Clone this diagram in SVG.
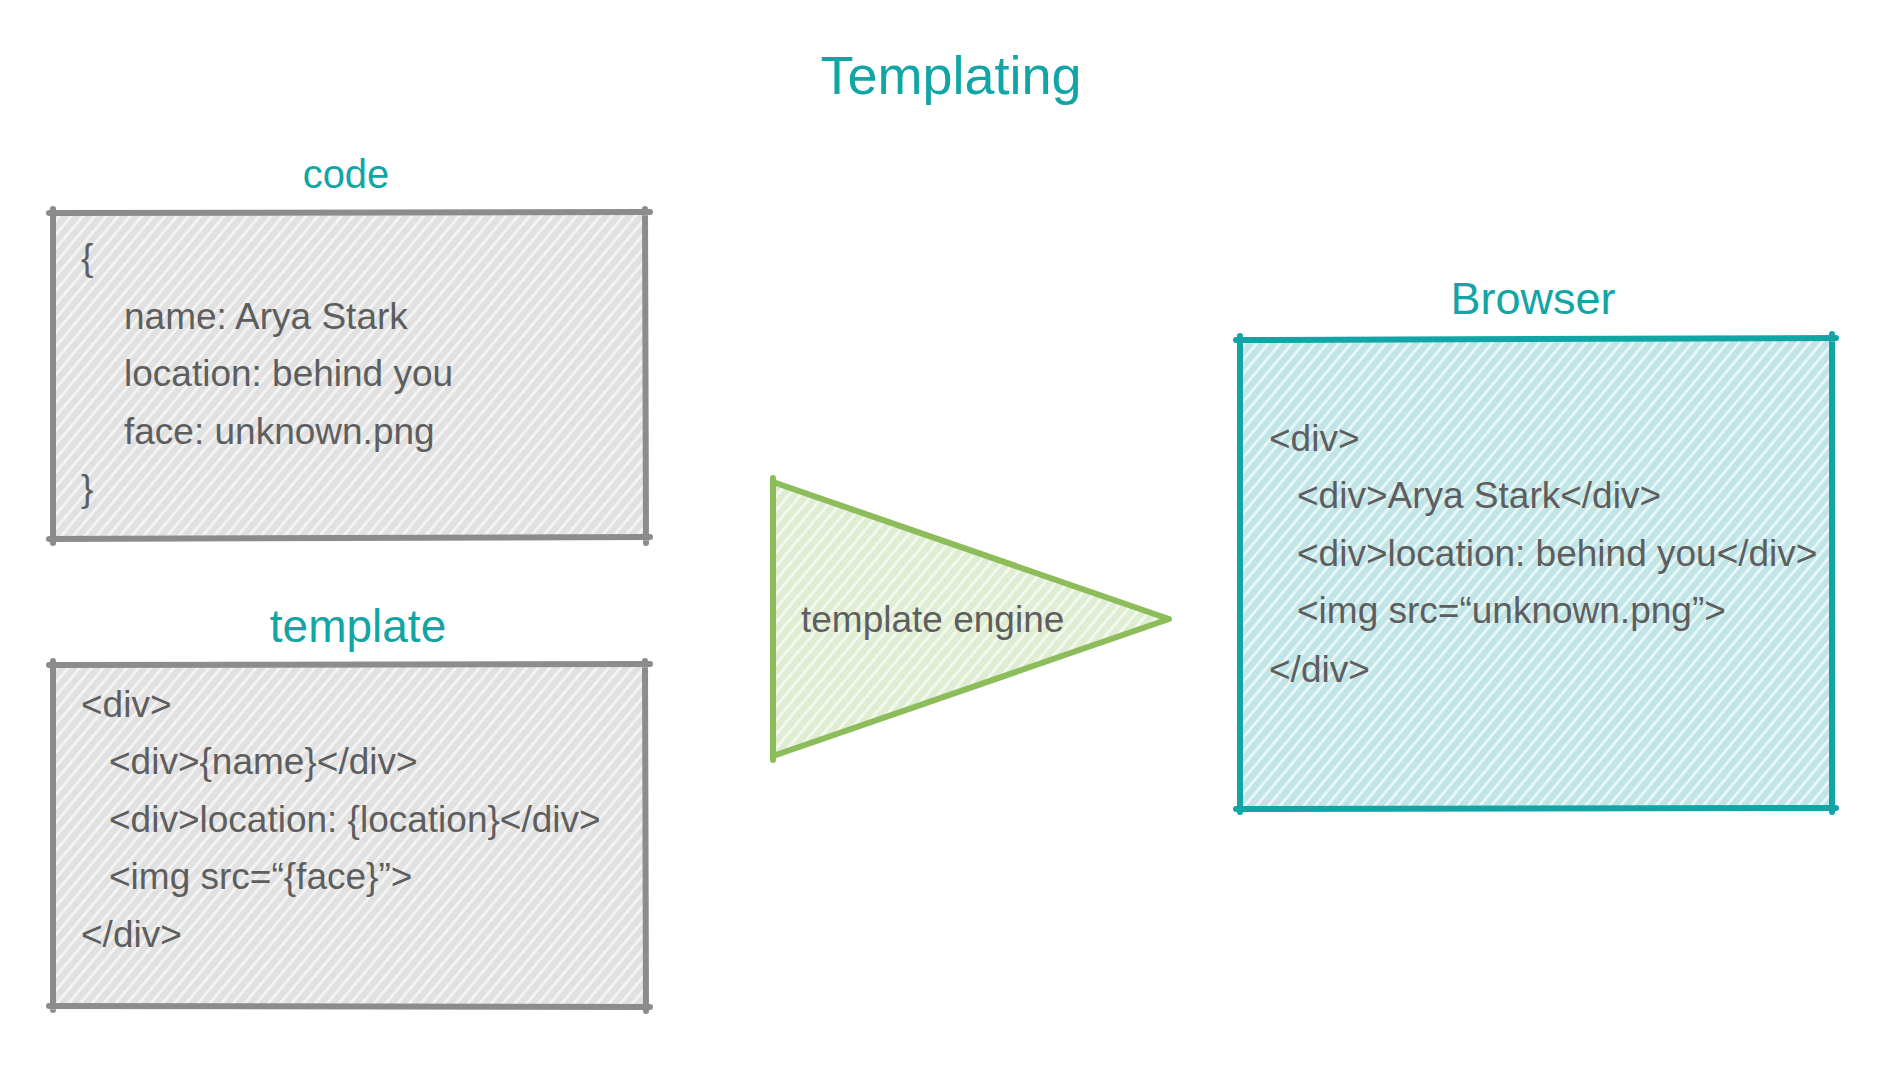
<svg xmlns="http://www.w3.org/2000/svg" width="1903" height="1072" viewBox="0 0 1903 1072">
  <defs>
    <pattern id="hatchGrey" patternUnits="userSpaceOnUse" width="9" height="9" patternTransform="rotate(40)">
      <rect width="9" height="9" fill="#e1e1e1"/>
      <line x1="4.5" y1="0" x2="4.5" y2="9" stroke="#f4f4f4" stroke-width="2.8"/>
    </pattern>
    <pattern id="hatchTeal" patternUnits="userSpaceOnUse" width="9" height="9" patternTransform="rotate(40)">
      <rect width="9" height="9" fill="#c1e5e6"/>
      <line x1="4.5" y1="0" x2="4.5" y2="9" stroke="#eaf7f7" stroke-width="2.8"/>
    </pattern>
    <pattern id="hatchGreen" patternUnits="userSpaceOnUse" width="9" height="9" patternTransform="rotate(40)">
      <rect width="9" height="9" fill="#dfedd3"/>
      <line x1="4.5" y1="0" x2="4.5" y2="9" stroke="#f4f9f0" stroke-width="2.8"/>
    </pattern>
  </defs>
  <style>
    .label { font-family: "Liberation Sans", Arial, sans-serif; fill: #12a5a5; text-anchor: middle; }
    .code { font-family: "Liberation Sans", Arial, sans-serif; font-size: 37px; fill: #5e5e5e; }
    .edge { fill: none; stroke-width: 6; stroke-linecap: round; stroke-linejoin: round; }
    .grey { stroke: #8c8c8c; }
    .teal { stroke: #12a5a5; }
    .green { stroke: #8cbd5a; }
  </style>
  <rect width="1903" height="1072" fill="#ffffff"/>

  <g id="title">
    <text class="label" x="951" y="94" font-size="54">Templating</text>
  </g>

  <g id="code">
    <text class="label" x="346" y="188" font-size="40">code</text>
    <rect x="53" y="213" width="592" height="325" fill="url(#hatchGrey)"/>
    <path class="edge grey" d="M49 213 L650 212 M645 209 L646 543 M650 537 L49 539 M53 543 L53 209"/>
    <text class="code" x="81" y="270">{</text>
    <text class="code" x="124" y="329">name: Arya Stark</text>
    <text class="code" x="124" y="386">location: behind you</text>
    <text class="code" x="124" y="444">face: unknown.png</text>
    <text class="code" x="81" y="501">}</text>
  </g>

  <g id="template">
    <text class="label" x="358" y="642" font-size="46">template</text>
    <rect x="53" y="665" width="592" height="342" fill="url(#hatchGrey)"/>
    <path class="edge grey" d="M49 665 L650 664 M645 661 L646 1011 M650 1007 L49 1006 M53 1010 L53 661"/>
    <text class="code" x="81" y="717">&lt;div&gt;</text>
    <text class="code" x="109" y="774">&lt;div&gt;{name}&lt;/div&gt;</text>
    <text class="code" x="109" y="832">&lt;div&gt;location: {location}&lt;/div&gt;</text>
    <text class="code" x="109" y="889">&lt;img src=“{face}”&gt;</text>
    <text class="code" x="81" y="947">&lt;/div&gt;</text>
  </g>

  <g id="template-engine">
    <polygon points="773,482 1168,619 773,756" fill="url(#hatchGreen)"/>
    <path class="edge green" d="M773 478 L773 760 M773 482 L1169 619 M1169 619 L773 756"/>
    <text class="code" x="801" y="632">template engine</text>
  </g>

  <g id="browser">
    <text class="label" x="1533" y="314" font-size="45">Browser</text>
    <rect x="1240" y="340" width="592" height="468" fill="url(#hatchTeal)"/>
    <path class="edge teal" d="M1236 340 L1836 338 M1832 334 L1832 812 M1836 808 L1236 809 M1240 812 L1240 336"/>
    <text class="code" x="1269" y="451">&lt;div&gt;</text>
    <text class="code" x="1297" y="508">&lt;div&gt;Arya Stark&lt;/div&gt;</text>
    <text class="code" x="1297" y="566">&lt;div&gt;location: behind you&lt;/div&gt;</text>
    <text class="code" x="1297" y="623">&lt;img src=“unknown.png”&gt;</text>
    <text class="code" x="1269" y="682">&lt;/div&gt;</text>
  </g>

  <g id="connectors"/>
</svg>
